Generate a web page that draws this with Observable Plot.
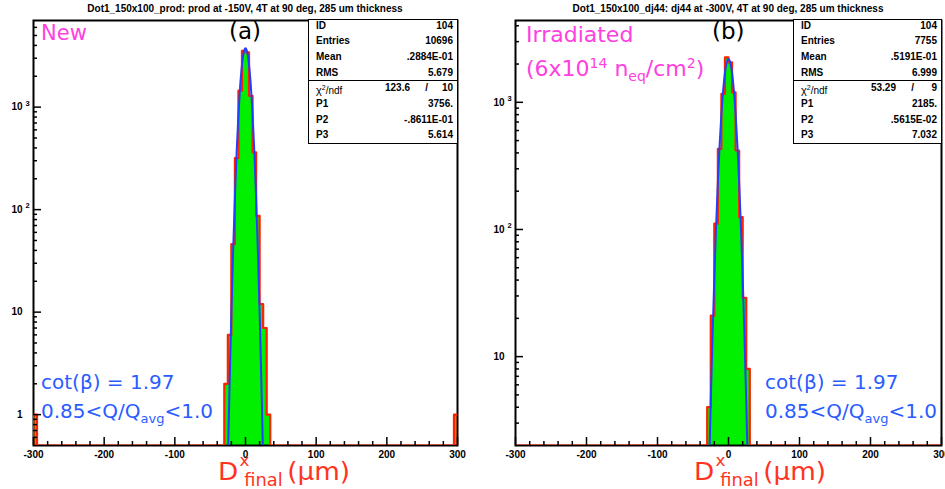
<!DOCTYPE html>
<html><head><meta charset="utf-8">
<script src="https://cdn.jsdelivr.net/npm/d3@7"></script>
<script src="https://cdn.jsdelivr.net/npm/@observablehq/plot@0.6"></script>
<style>
html,body{margin:0;padding:0;background:#fff;}
#wrap{position:relative;width:945px;height:489px;overflow:hidden;font-family:"Liberation Sans",Arial,Helvetica,sans-serif;}
.svgbox{position:absolute;top:0;}
.abs{position:absolute;white-space:nowrap;line-height:1;}
.title{font-weight:bold;font-size:10px;transform:translateX(-50%);top:4px;color:#000;}
.comic{font-family:"DejaVu Sans",sans-serif;}
.stats{position:absolute;background:#fff;border:1.5px solid #000;box-sizing:border-box;}
.row{position:absolute;left:0;right:0;height:14px;line-height:14px;font-size:10px;font-weight:bold;}
.row .l{position:absolute;left:7px;}
.row .r{position:absolute;}
.sep{position:absolute;left:0;right:0;border-top:1.5px solid #000;}
.mag{color:#ff40e0;}
.blu{color:#2a5cff;}
.red{color:#ff3322;}
.xl{position:absolute;width:140px;height:40px;transform:scaleX(1.05);transform-origin:0 0;}
</style></head><body><div id="wrap"></div>
<script>
// ---------------- data ----------------
const binWidth = 5;
const xRange = [-300, 300];
const xTicks = [-300, -200, -100, 0, 100, 200, 300];

// panel (a)
const titleA = "Dot1_150x100_prod: prod at -150V, 4T at 90 deg, 285 um thickness";
const binStartA = [-300, -30, -25, -20, -15, -10, -5, 0, 5, 10, 15, 20, 25, 30, 295];
const countA    = [1, 2, 6, 46, 318, 1446, 3550, 3427, 1290, 362, 87, 12, 7, 1, 1];
const fitXA = [-25, -22.5, -20, -17.5, -15, -12.5, -10, -7.5, -5, -2.5, 0, 2.5, 5, 7.5, 10, 12.5, 15, 17.5, 20, 22.5, 25];
const fitYA = [0.35, 2.0, 9.8, 39.7, 132, 368, 850, 1628, 2590, 3423, 3756, 3423, 2590, 1628, 850, 368, 132, 39.7, 9.8, 2.0, 0.35];
const yDomainA = [0.5, 7000];
const yTicksA = [1, 10, 100, 1000];
const yBaseA = ["1", "10", "10", "10"];
const yExpA = ["", "", "2", "3"];
const statsA = [["ID", "104"], ["Entries", "10696"], ["Mean", ".2884E-01"], ["RMS", "5.679"]];
const chi2A = ["123.6", "10"];
const parsA = [["P1", "3756."], ["P2", "-.8611E-01"], ["P3", "5.614"]];

// panel (b)
const titleB = "Dot1_150x100_dj44: dj44 at -300V, 4T at 90 deg, 285 um thickness";
const binStartB = [-30, -25, -20, -15, -10, -5, 0, 5, 10, 15, 20, 25];
const countB    = [4, 21, 111, 430, 1164, 2254, 2060, 1197, 418, 125, 29, 8];
const fitXB = [-27.5, -25, -22.5, -20, -17.5, -15, -12.5, -10, -7.5, -5, -2.5, 0, 2.5, 5, 7.5, 10, 12.5, 15, 17.5, 20, 22.5, 25, 27.5];
const fitYB = [1.2, 4.4, 14.4, 41.3, 105, 234, 463, 810, 1250, 1705, 2054, 2185, 2054, 1705, 1250, 810, 463, 234, 105, 41.3, 14.4, 4.4, 1.2];
const yDomainB = [2, 4400];
const yTicksB = [10, 100, 1000];
const yBaseB = ["10", "10", "10"];
const yExpB = ["", "2", "3"];
const statsB = [["ID", "104"], ["Entries", "7755"], ["Mean", ".5191E-01"], ["RMS", "6.999"]];
const chi2B = ["53.29", "9"];
const parsB = [["P1", "2185."], ["P2", ".5615E-02"], ["P3", "7.032"]];

// ---------------- drawing ----------------
const H = 489, MT = 20, MB = 44;
function panel({width, ml, mr, yDomain, binStart, count, fitX, fitY, yTicks, yBase, yExp}) {
  const fw = width - ml - mr, fh = H - MT - MB;
  const yMin = yDomain[0];
  const byStart = new Map(binStart.map((s, i) => [s, count[i]]));
  const outline = [{x: xRange[0], y: yMin}];
  for (let s = xRange[0]; s < xRange[1]; s += binWidth) outline.push({x: s, y: Math.max(byStart.get(s) || 0, yMin)});
  outline.push({x: xRange[1], y: outline[outline.length - 1].y});
  outline.push({x: xRange[1], y: yMin});
  const fit = fitX.map((x, i) => ({x, y: fitY[i]}));
  const minorY = [];
  for (let e = -1; e <= 4; e++) for (let m = 2; m <= 9; m++) {
    const v = +(m * Math.pow(10, e)).toPrecision(3);
    if (v > yDomain[0] && v < yDomain[1]) minorY.push(v);
  }
  const minorX = d3.range(xRange[0], xRange[1] + 1, 20).filter(v => v % 100 !== 0);
  return Plot.plot({
    width, height: H, marginLeft: ml, marginRight: mr, marginTop: MT, marginBottom: MB,
    x: {domain: xRange, axis: null},
    y: {type: "log", domain: yDomain, axis: null},
    style: {fontFamily: "Liberation Sans, Arial, sans-serif", fontSize: "10px", background: "transparent", overflow: "visible", color: "#000"},
    marks: [
      Plot.areaY(outline, {x: "x", y1: () => yMin, y2: "y", curve: "step-after", fill: "#00f000", clip: true}),
      Plot.frame({stroke: "#000", strokeWidth: 2}),
      Plot.line(outline, {x: "x", y: "y", curve: "step-after", stroke: "#ff2200", strokeWidth: 2.2, clip: true}),
      Plot.line(fit, {x: "x", y: "y", curve: "natural", stroke: "#2040ff", strokeWidth: 2, clip: true}),
      Plot.tickY(yTicks, {y: d => d, insetRight: fw - 8, stroke: "#000", strokeWidth: 1.5}),
      Plot.tickY(minorY, {y: d => d, insetRight: fw - 4, stroke: "#000", strokeWidth: 1.5}),
      Plot.tickX(xTicks, {x: d => d, insetTop: fh - 8, stroke: "#000", strokeWidth: 1.5}),
      Plot.tickX(minorX, {x: d => d, insetTop: fh - 4, stroke: "#000", strokeWidth: 1.5}),
      Plot.text(xTicks, {x: d => d, text: d => String(d), frameAnchor: "bottom", dy: 12, fontWeight: "bold", fill: "#000"}),
      Plot.text(yTicks, {y: d => d, text: (d, i) => yBase[i], frameAnchor: "left", textAnchor: "end", dx: -11, fontWeight: "bold", fill: "#000"}),
      Plot.text(yTicks, {y: d => d, text: (d, i) => yExp[i], frameAnchor: "left", textAnchor: "start", dx: -8, dy: -4, fontWeight: "bold", fontSize: 7.5, fill: "#000"})
    ]
  });
}

const wrap = document.getElementById("wrap");
function addSvg(svg, left) {
  const d = document.createElement("div");
  d.className = "svgbox"; d.style.left = left + "px";
  d.appendChild(svg); wrap.appendChild(d);
}
addSvg(panel({width: 472, ml: 33, mr: 15, yDomain: yDomainA, binStart: binStartA, count: countA, fitX: fitXA, fitY: fitYA, yTicks: yTicksA, yBase: yBaseA, yExp: yExpA}), 0);
addSvg(panel({width: 473, ml: 43, mr: 4, yDomain: yDomainB, binStart: binStartB, count: countB, fitX: fitXB, fitY: fitYB, yTicks: yTicksB, yBase: yBaseB, yExp: yExpB}), 472);

function addHtml(html, cls, left, top, extra, parent) {
  const d = document.createElement("div");
  d.className = "abs " + (cls || "");
  d.style.left = left + "px"; d.style.top = top + "px";
  if (extra) Object.assign(d.style, extra);
  d.innerHTML = html; (parent || wrap).appendChild(d);
  return d;
}

function statsBox(left, width, stats, chi2, pars, chiOff) {
  const box = document.createElement("div");
  box.className = "stats";
  box.style.left = left + "px"; box.style.top = "19px";
  box.style.width = width + "px"; box.style.height = "125px";
  const rowTop = i => (26 + 15.67 * i) - 7 - 20.5;
  let html = "";
  stats.forEach((s, i) => { html += `<div class="row" style="top:${rowTop(i)}px"><span class="l">${s[0]}</span><span class="r" style="right:4px">${s[1]}</span></div>`; });
  html += `<div class="sep" style="top:60px"></div>`;
  html += `<div class="row" style="top:${rowTop(4)}px"><span class="l" style="font-weight:normal"><span style="font-size:11px">&chi;</span><sup style="font-size:7px">2</sup>/ndf</span><span class="r" style="right:${chiOff[0]}px">${chi2[0]}</span><span class="r" style="right:${chiOff[1]}px">/</span><span class="r" style="right:4px">${chi2[1]}</span></div>`;
  pars.forEach((s, i) => { html += `<div class="row" style="top:${rowTop(5 + i)}px"><span class="l">${s[0]}</span><span class="r" style="right:4px">${s[1]}</span></div>`; });
  box.innerHTML = html;
  wrap.appendChild(box);
}
statsBox(308, 150, statsA, chi2A, parsA, [47, 29]);
statsBox(793, 149, statsB, chi2B, parsB, [45, 27]);

// titles
addHtml(titleA, "title", 245, 4);
addHtml(titleB, "title", 728, 4);

// annotations panel (a)
addHtml("New", "comic mag", 41, 23, {fontSize: "21px"});
addHtml("(a)", "comic", 229, 20, {fontSize: "23px"});
addHtml("cot(&beta;) = 1.97", "comic blu", 41, 372, {fontSize: "20px"});
addHtml("0.85&lt;Q/Q<sub style='font-size:13px;vertical-align:-5px'>avg</sub>&lt;1.0", "comic blu", 41, 401, {fontSize: "20px"});
// annotations panel (b)
addHtml("Irradiated", "comic mag", 526, 24, {fontSize: "22px"});
addHtml("(6x10<sup style='font-size:14px;vertical-align:8px'>14</sup> n<sub style='font-size:14px;vertical-align:-5px'>eq</sub>/cm<sup style='font-size:14px;vertical-align:8px'>2</sup>)", "comic mag", 526, 56, {fontSize: "22px"});
addHtml("(b)", "comic", 712, 20, {fontSize: "23px"});
addHtml("cot(&beta;) = 1.97", "comic blu", 765, 372, {fontSize: "20px"});
addHtml("0.85&lt;Q/Q<sub style='font-size:13px;vertical-align:-5px'>avg</sub>&lt;1.0", "comic blu", 765, 401, {fontSize: "20px"});

// x-axis labels
function xLabel(left) {
  const c = document.createElement("div");
  c.className = "xl red comic";
  c.style.left = left + "px"; c.style.top = "450px";
  wrap.appendChild(c);
  addHtml("D", "", 0, 9, {fontSize: "25px"}, c);
  addHtml("x", "", 20.5, 3, {fontSize: "16px"}, c);
  addHtml("final", "", 25, 22, {fontSize: "17px"}, c);
  addHtml("(&mu;m)", "", 66, 9, {fontSize: "25px"}, c);
}
xLabel(218);
xLabel(694);
</script></body></html>
